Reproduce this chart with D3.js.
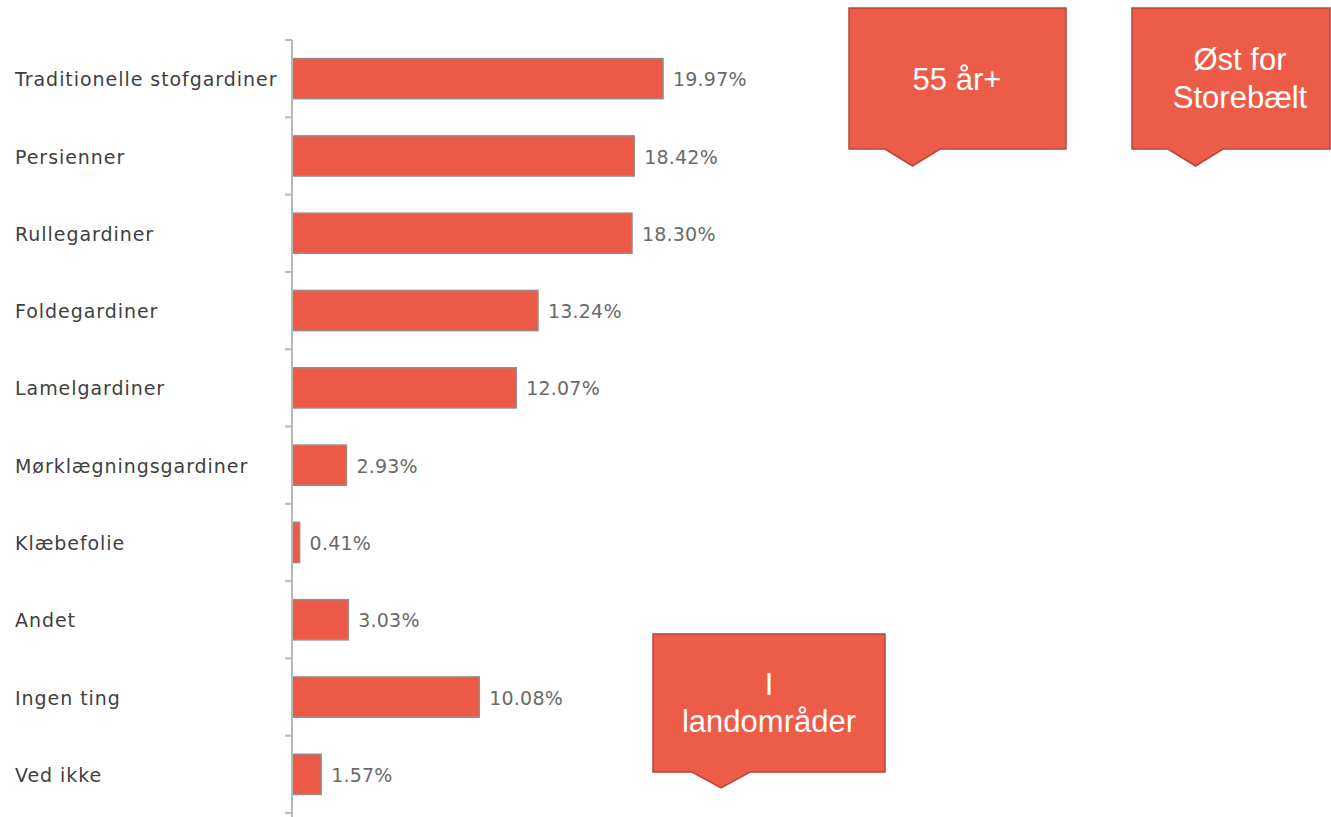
<!DOCTYPE html>
<html>
<head>
<meta charset="utf-8">
<script src="https://cdn.jsdelivr.net/npm/d3@7"></script>
<style>
  body { margin: 0; background: #fff; }
  svg { display: block; }
</style>
</head>
<body>
<svg width="1331" height="817"></svg>
<script>
const categories = [
    "Traditionelle stofgardiner", "Persienner", "Rullegardiner", "Foldegardiner",
    "Lamelgardiner", "Mørklægningsgardiner", "Klæbefolie", "Andet", "Ingen ting", "Ved ikke"
];
const values = [19.97, 18.42, 18.30, 13.24, 12.07, 2.93, 0.41, 3.03, 10.08, 1.57];
const valueLabels = ["19.97%", "18.42%", "18.30%", "13.24%", "12.07%", "2.93%", "0.41%", "3.03%", "10.08%", "1.57%"];

const calloutTexts = [["55 år+"], ["Øst for", "Storebælt"], ["I", "landområder"]];

const svg = d3.select("svg");

const x = d3.scaleLinear().domain([0, 20]).range([292, 663.6]);
const y = d3.scaleBand().domain(categories).range([40, 813]).paddingInner(0.48).paddingOuter(0.24);

// bars
svg.append("g")
    .selectAll("rect")
    .data(values)
    .enter()
    .append("rect")
    .attr("x", x(0))
    .attr("y", (d, i) => y(categories[i]))
    .attr("width", d => x(d) - x(0))
    .attr("height", y.bandwidth())
    .style("fill", "#ec5a47")
    .style("stroke", "#9a8a88")
    .style("stroke-width", 1.5)

// axis line and ticks at band boundaries
const axis = svg.append("g");
axis.append("line")
    .attr("x1", 292).attr("x2", 292)
    .attr("y1", 40).attr("y2", 817)
    .style("stroke", "#b8b8b8")
    .style("stroke-width", 2)

const tickYs = categories.map(c => y(c) - (y.step() - y.bandwidth()) / 2)
    .concat([y.range()[1]]);
axis.selectAll("line.tick")
    .data(tickYs)
    .enter()
    .append("line")
    .attr("class", "tick")
    .attr("x1", 285).attr("x2", 292)
    .attr("y1", d => d).attr("y2", d => d)
    .style("stroke", "#b8b8b8")
    .style("stroke-width", 2)

// category labels
svg.append("g")
    .selectAll("text")
    .data(categories)
    .enter()
    .append("text")
    .attr("x", 15)
    .attr("y", d => y(d) + y.bandwidth() / 2)
    .attr("dy", "0.4em")
    .style("font-family", "DejaVu Sans, Verdana, sans-serif")
    .style("font-size", "19px")
    .style("letter-spacing", "0.95px")
    .style("fill", "#3f3f3f")
    .text(d => d)

// value labels
svg.append("g")
    .selectAll("text")
    .data(values)
    .enter()
    .append("text")
    .attr("x", d => x(d) + 10)
    .attr("y", (d, i) => y(categories[i]) + y.bandwidth() / 2)
    .attr("dy", "0.4em")
    .style("font-family", "DejaVu Sans, Verdana, sans-serif")
    .style("font-size", "19px")
    .style("letter-spacing", "0.2px")
    .style("fill", "#6a6a6a")
    .text((d, i) => valueLabels[i])

// callouts
const calloutBoxes = [
    { x0: 849, x1: 1066, y0: 8, y1: 149, p0: 885, p1: 940, tip: 166, tx: 957, ty: [90] },
    { x0: 1132, x1: 1330, y0: 8, y1: 149, p0: 1168, p1: 1223, tip: 166, tx: 1240, ty: [70, 108] },
    { x0: 653, x1: 885, y0: 634, y1: 772, p0: 692, p1: 750, tip: 788, tx: 769, ty: [695, 732] }
];

calloutBoxes.forEach((b, i) => {
    const path = d3.path();
    path.moveTo(b.x0, b.y0);
    path.lineTo(b.x1, b.y0);
    path.lineTo(b.x1, b.y1);
    path.lineTo(b.p1, b.y1);
    path.lineTo((b.p0 + b.p1) / 2, b.tip);
    path.lineTo(b.p0, b.y1);
    path.lineTo(b.x0, b.y1);
    path.closePath();
    const g = svg.append("g");
    g.append("path")
        .attr("d", path.toString())
        .style("fill", "#ed5c49")
        .style("stroke", "#b5483a")
        .style("stroke-width", 1.5)
    g.selectAll("text")
        .data(calloutTexts[i])
        .enter()
        .append("text")
        .attr("x", b.tx)
        .attr("y", (d, j) => b.ty[j])
        .attr("text-anchor", "middle")
        .style("font-family", "Liberation Sans, Arial, sans-serif")
        .style("font-size", "31px")
        .style("fill", "#fff")
        .text(d => d)
});
</script>
</body>
</html>
